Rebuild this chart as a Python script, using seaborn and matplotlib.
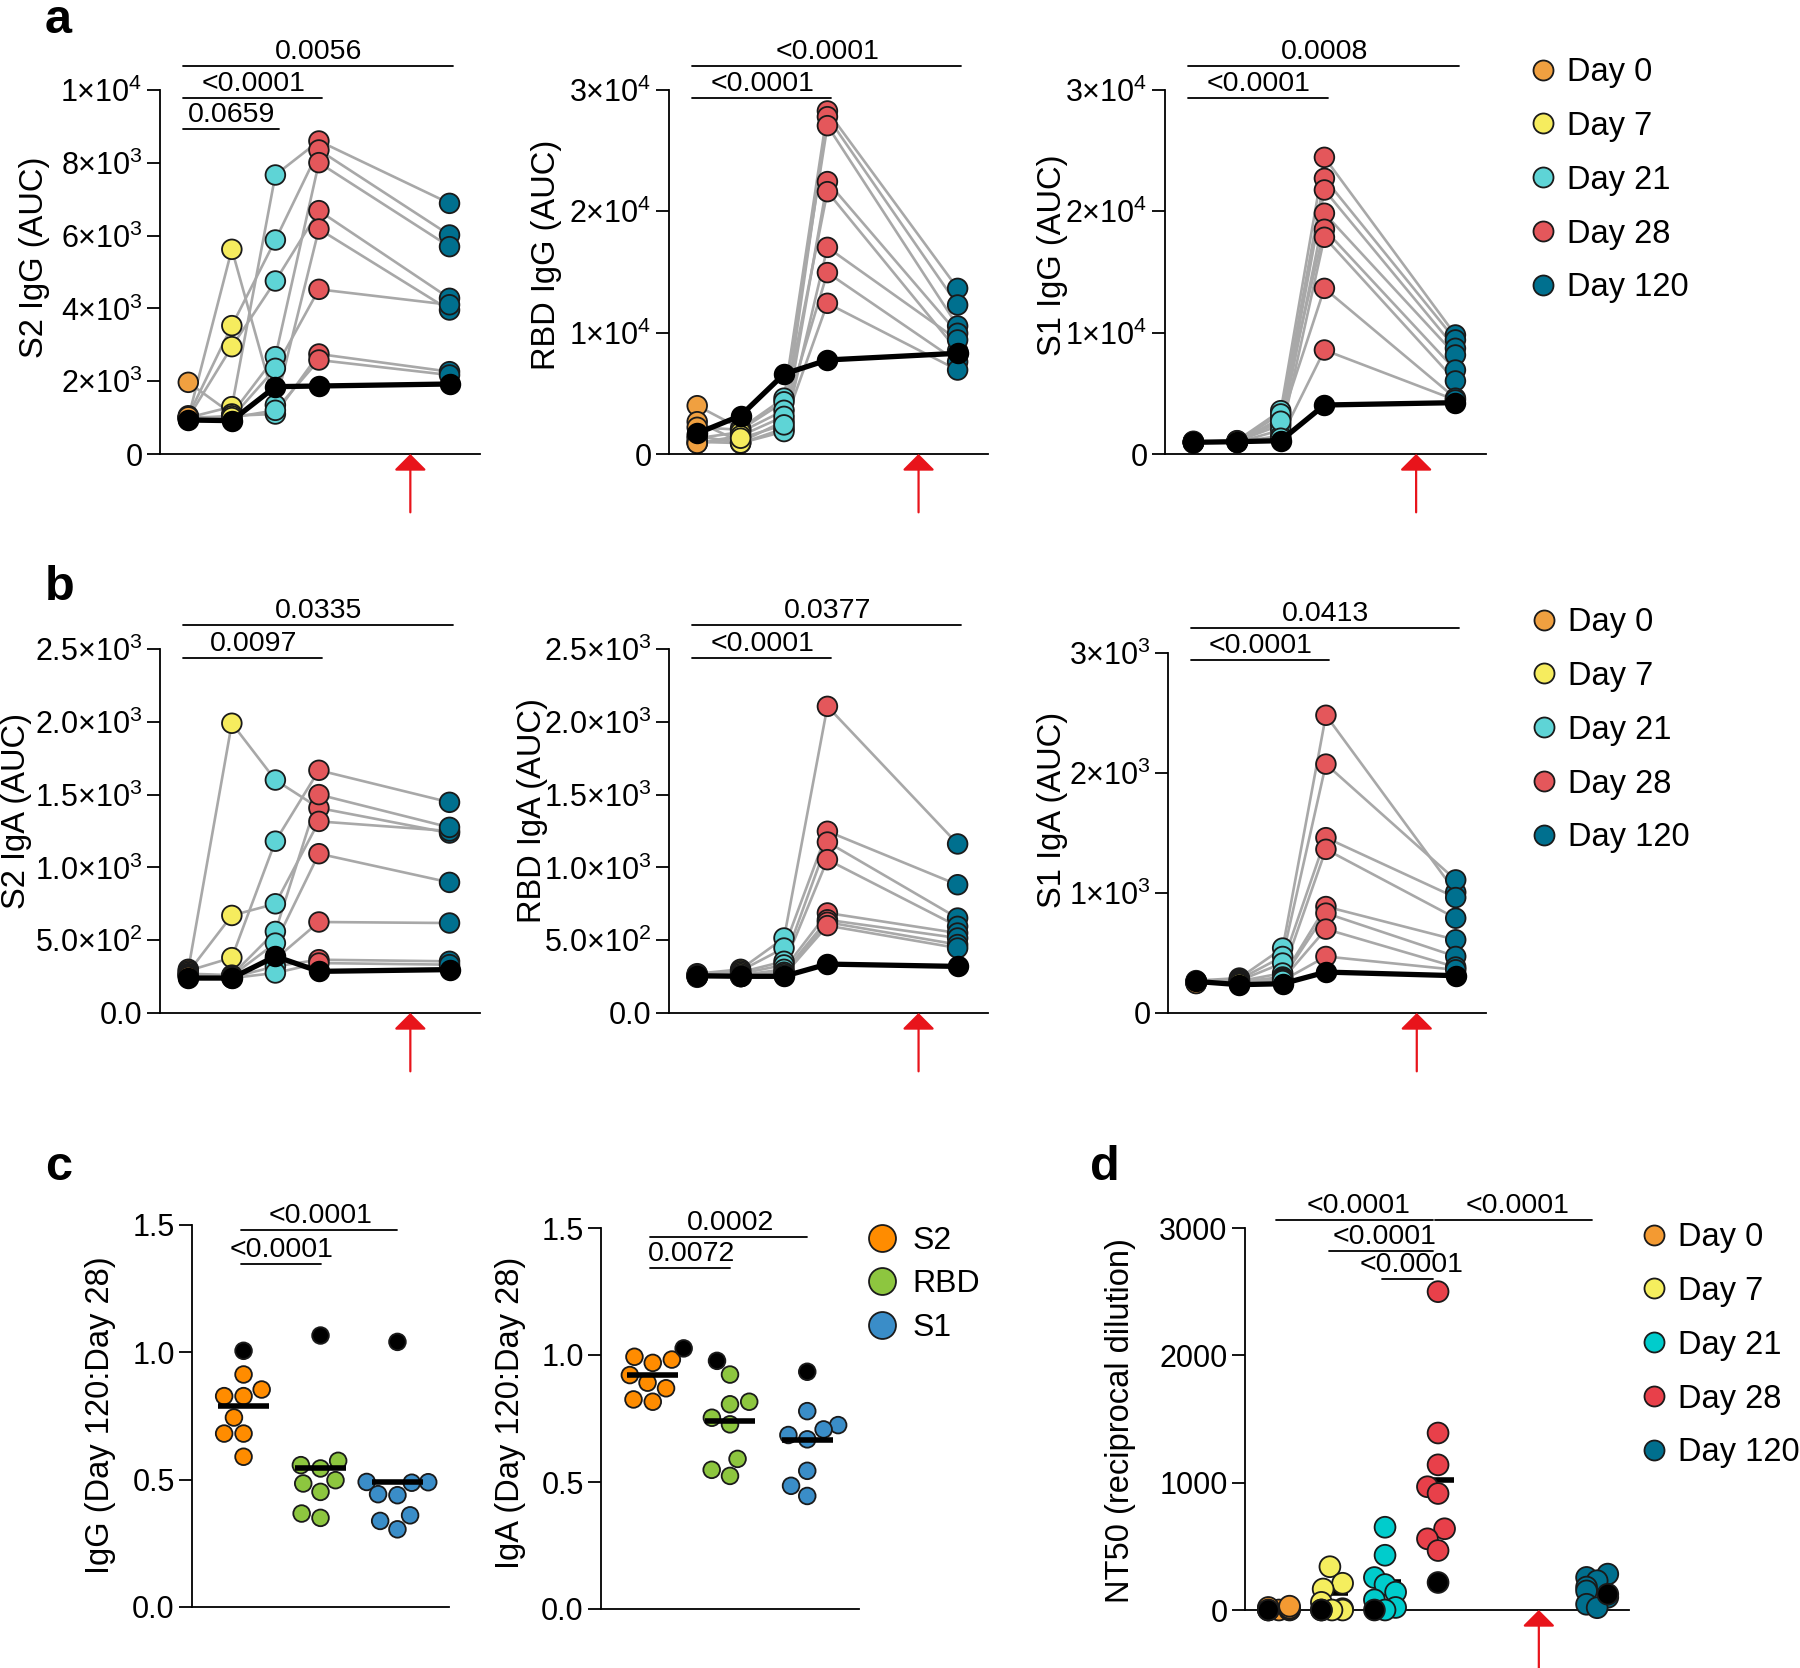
import numpy as np
import pandas as pd
import matplotlib
matplotlib.use("Agg")
import matplotlib.pyplot as plt
import seaborn as sns
from matplotlib.lines import Line2D
import warnings
warnings.filterwarnings("ignore")

# ---------------- data ----------------
days = ["Day 0", "Day 7", "Day 21", "Day 28", "Day 120"]
day_pos = [0, 1, 2, 3, 6]

# panel a (IgG AUC): rows = days, columns = 8 donors, *_ref = black donor
s2_igg = [
    [1000, 1050, 1000, 1969, 1000, 950, 980, 1020],
    [1300, 3526, 2949, 1100, 5623, 1000, 1050, 1000],
    [7665, 5879, 4753, 2674, 1346, 2353, 1099, 1200],
    [8599, 8352, 6685, 8004, 6181, 4524, 2747, 2582],
    [6886, 6016, 4277, 5696, 3956, 4100, 2262, 2170],
]
s2_igg_ref = [934, 916, 1850, 1868, 1923]

rbd_igg = [
    [3980, 2660, 2200, 1500, 1300, 1000, 900, 880],
    [2100, 1000, 2000, 880, 1800, 900, 1500, 1300],
    [4600, 2700, 4300, 2100, 3600, 1850, 3100, 2400],
    [28270, 27800, 27060, 22450, 21620, 17030, 14950, 12420],
    [13650, 12280, 10550, 9950, 8500, 9400, 7600, 6920],
]
rbd_igg_ref = [1700, 3160, 6590, 7750, 8300]

s1_igg = [
    [1000, 950, 900, 1050, 980, 920, 1000, 960],
    [1100, 1000, 1050, 950, 1020, 980, 1000, 1060],
    [3570, 2940, 2390, 1980, 3300, 1500, 2700, 1300],
    [24450, 22720, 21760, 19840, 18520, 17860, 13650, 8570],
    [9810, 9400, 8710, 8160, 6920, 6020, 4600, 4450],
]
s1_igg_ref = [962, 1016, 1099, 4038, 4231]

# panel b (IgA AUC)
s2_iga = [
    [300, 290, 280, 270, 265, 260, 255, 250],
    [1990, 380, 670, 260, 255, 250, 245, 240],
    [1600, 1180, 750, 560, 480, 370, 320, 275],
    [1408, 1667, 1316, 1500, 1094, 625, 366, 343],
    [1236, 1447, 1250, 1275, 897, 618, 355, 332],
]
s2_iga_ref = [240, 240, 389, 286, 298]

rbd_iga = [
    [270, 265, 260, 255, 255, 250, 250, 245],
    [300, 290, 280, 270, 260, 255, 250, 250],
    [515, 446, 355, 330, 300, 280, 270, 260],
    [2106, 1248, 1174, 1053, 687, 640, 623, 600],
    [1161, 881, 652, 595, 549, 515, 470, 446],
]
rbd_iga_ref = [256, 252, 252, 336, 320]

s1_iga = [
    [270, 265, 260, 258, 255, 250, 250, 245],
    [291, 280, 270, 265, 260, 255, 250, 245],
    [541, 471, 416, 333, 300, 290, 280, 270],
    [2481, 2074, 1461, 1364, 887, 832, 699, 471],
    [1006, 1109, 962, 790, 610, 471, 383, 360],
]
s1_iga_ref = [263, 236, 244, 341, 311]

# panel c (Day 120 : Day 28 ratios)
antigens = ["S2", "RBD", "S1"]
igg_ratio = [
    [0.913, 0.854, 0.828, 0.828, 0.744, 0.681, 0.681, 0.590],
    [0.574, 0.557, 0.544, 0.498, 0.485, 0.452, 0.367, 0.350],
    [0.491, 0.490, 0.488, 0.443, 0.439, 0.360, 0.338, 0.305],
]
igg_ratio_ref = [1.006, 1.066, 1.041]
igg_ratio_median = [0.790, 0.544, 0.489]
iga_ratio = [
    [0.993, 0.982, 0.969, 0.921, 0.891, 0.869, 0.825, 0.816],
    [0.923, 0.816, 0.806, 0.753, 0.727, 0.591, 0.548, 0.524],
    [0.779, 0.724, 0.707, 0.685, 0.668, 0.544, 0.485, 0.445],
]
iga_ratio_ref = [1.026, 0.977, 0.934]
iga_ratio_median = [0.921, 0.740, 0.665]

# panel d (NT50)
nt50 = [
    [0, 0, 0, 5, 10, 15, 20, 30],
    [340, 210, 165, 60, 10, 0, 0, 0],
    [650, 430, 255, 200, 140, 80, 20, 0],
    [2500, 1390, 1140, 968, 915, 638, 559, 467],
    [282, 256, 230, 180, 150, 100, 45, 18],
]
nt50_ref = [0, 0, 0, 216, 124]
nt50_median = [10, 137, 216, 1021, 170]

# significance annotations (group positions, label)
a_sig = {
    "S2": [(0, 6, "0.0056"), (0, 3, "<0.0001"), (0, 2, "0.0659")],
    "RBD": [(0, 6, "<0.0001"), (0, 3, "<0.0001")],
    "S1": [(0, 6, "0.0008"), (0, 3, "<0.0001")],
}
b_sig = {
    "S2": [(0, 6, "0.0335"), (0, 3, "0.0097")],
    "RBD": [(0, 6, "0.0377"), (0, 3, "<0.0001")],
    "S1": [(0, 6, "0.0413"), (0, 3, "<0.0001")],
}
c_sig_igg = [(0, 2, "<0.0001"), (0, 1, "<0.0001")]
c_sig_iga = [(0, 2, "0.0002"), (0, 1, "0.0072")]
d_sig = [(0, 3, "<0.0001"), (3, 6, "<0.0001"), (1, 3, "<0.0001"), (2, 3, "<0.0001")]

ticks_1e4 = [0, 2000, 4000, 6000, 8000, 10000]
labels_1e4 = ["0", "2×10$^3$", "4×10$^3$", "6×10$^3$", "8×10$^3$", "1×10$^4$"]
ticks_3e4 = [0, 10000, 20000, 30000]
labels_3e4 = ["0", "1×10$^4$", "2×10$^4$", "3×10$^4$"]
ticks_25e2 = [0, 500, 1000, 1500, 2000, 2500]
labels_25e2 = ["0.0", "5.0×10$^2$", "1.0×10$^3$", "1.5×10$^3$", "2.0×10$^3$", "2.5×10$^3$"]
ticks_3e3 = [0, 1000, 2000, 3000]
labels_3e3 = ["0", "1×10$^3$", "2×10$^3$", "3×10$^3$"]

# ---------------- style ----------------
sns.set_theme(style="ticks", rc={"axes.edgecolor": "black", "text.color": "black",
                                  "axes.labelcolor": "black", "ytick.color": "black",
                                  "xtick.color": "black"})
plt.rcParams["font.family"] = ["Liberation Sans", "DejaVu Sans"]
plt.rcParams["mathtext.fontset"] = "custom"
plt.rcParams["mathtext.rm"] = "Liberation Sans"
plt.rcParams["mathtext.it"] = "Liberation Sans:italic"
plt.rcParams["mathtext.bf"] = "Liberation Sans:bold"
plt.rcParams["mathtext.default"] = "regular"

day_colors = dict(zip(days, ["#F0A040", "#F6EC5E", "#5ED4D6", "#E4575B", "#00708F"]))
d_colors = dict(zip(days, ["#F39A32", "#F5EE5E", "#00CCCC", "#E8404A", "#006F8E"]))
ag_colors = dict(zip(antigens, ["#FF8C00", "#8DC63F", "#3A8DC8"]))
edge = "#1a1a1a"
arrow_red = "#E8141B"

TICK_FS, LABEL_FS, SIG_FS, LEG_FS = 22, 23.5, 20.5, 23.5

W, H = 1800, 1668
fig = plt.figure(figsize=(W / 100, H / 100), dpi=100)


def add_ax(l, t, r, b):
    return fig.add_axes([l / W, 1 - b / H, (r - l) / W, (b - t) / H])


def style_axis(ax, ylim, ticks, labels, ylabel, label_xy, box):
    l, t, r, b = box
    ax.set_ylim(*ylim)
    ax.set_yticks(ticks, labels)
    ax.set_xticks([])
    ax.set_xlabel("")
    sns.despine(ax=ax)
    for s in ["left", "bottom"]:
        ax.spines[s].set_linewidth(1.3)
    ax.tick_params(axis="y", length=9.5, width=1.3, labelsize=TICK_FS, pad=3)
    ax.set_ylabel(ylabel, fontsize=LABEL_FS, va="center")
    ax.yaxis.set_label_coords((label_xy[0] - l) / (r - l), (b - label_xy[1]) / (b - t))


def sig_bars(ax, items, heights, pad_l, pad_r):
    tr = ax.get_xaxis_transform()
    for (x1, x2, txt), y in zip(items, heights):
        ax.plot([x1 - pad_l, x2 + pad_r], [y, y], transform=tr, color="black",
                lw=1.3, clip_on=False)
        ax.annotate(txt, xy=((x1 + x2) / 2, y), xycoords=tr, xytext=(0, 5),
                    textcoords="offset points", ha="center", va="baseline",
                    fontsize=SIG_FS, annotation_clip=False)


def boost_arrow(ax, x):
    ax.annotate("", xy=(x, 0), xycoords=("data", "axes fraction"),
                xytext=(0, -42), textcoords="offset points",
                arrowprops=dict(arrowstyle="-|>,head_length=0.36,head_width=0.36",
                                color=arrow_red, lw=1.6, mutation_scale=28,
                                shrinkA=0, shrinkB=0),
                annotation_clip=False)


def unclip_points(ax):
    # let markers sitting on the axis spill over it; skip empty swarm slots
    for c in ax.collections:
        if len(c.get_offsets()):
            c.set_clip_on(False)


def paired_panel(box, values, ref, ylim, ticks, labels, ylabel, label_xy, sig, heights):
    ax = add_ax(*box)
    rows = []
    for d, day in enumerate(days):
        for s, v in enumerate(values[d]):
            rows.append({"donor": s, "day": day, "pos": day_pos[d], "value": v})
    df = pd.DataFrame(rows)
    ref_df = pd.DataFrame({"pos": day_pos, "value": ref})
    sns.lineplot(data=df, x="pos", y="value", units="donor", estimator=None,
                 color="#A8A8A8", lw=1.9, ax=ax, zorder=1)
    sns.scatterplot(data=df, x="pos", y="value", hue="day", palette=day_colors,
                    s=200, edgecolor=edge, linewidth=1.3, legend=False, ax=ax, zorder=2)
    sns.lineplot(data=ref_df, x="pos", y="value", color="black", lw=3.8, ax=ax, zorder=3)
    sns.scatterplot(data=ref_df, x="pos", y="value", color="black", s=200,
                    edgecolor="black", linewidth=1.3, legend=False, ax=ax, zorder=4)
    ax.set_xlim(-0.65, 6.7)
    style_axis(ax, ylim, ticks, labels, ylabel, label_xy, box)
    unclip_points(ax)
    sig_bars(ax, sig, heights, 0.12, 0.08)
    boost_arrow(ax, 5.1)
    return ax


def day_legend(x, y, colors):
    handles = [Line2D([], [], ls="", marker="o", markersize=14.4, markerfacecolor=colors[d],
                      markeredgecolor=edge, markeredgewidth=1.3) for d in days]
    fig.legend(handles, days, loc="upper left", bbox_to_anchor=(x / W, 1 - y / H),
               frameon=False, fontsize=LEG_FS, borderpad=0, borderaxespad=0,
               handlelength=0.8, handletextpad=0.34, labelspacing=0.70)


# ---------------- panel a ----------------
a_h = [1.066, 0.978, 0.893]
paired_panel((160, 90, 480, 454), s2_igg, s2_igg_ref, (0, 10000), ticks_1e4, labels_1e4,
             "S2 IgG (AUC)", (35, 257), a_sig["S2"], a_h)
paired_panel((669, 90, 988, 454), rbd_igg, rbd_igg_ref, (0, 30000), ticks_3e4, labels_3e4,
             "RBD IgG (AUC)", (547, 255), a_sig["RBD"], a_h)
paired_panel((1165, 90, 1486, 454), s1_igg, s1_igg_ref, (0, 30000), ticks_3e4, labels_3e4,
             "S1 IgG (AUC)", (1052, 255), a_sig["S1"], a_h)
day_legend(1530, 57, day_colors)

# ---------------- panel b ----------------
b_h = [1.066, 0.975]
paired_panel((160, 649, 480, 1013), s2_iga, s2_iga_ref, (0, 2500), ticks_25e2, labels_25e2,
             "S2 IgA (AUC)", (17, 811), b_sig["S2"], b_h)
paired_panel((669, 649, 988, 1013), rbd_iga, rbd_iga_ref, (0, 2500), ticks_25e2, labels_25e2,
             "RBD IgA (AUC)", (533, 811), b_sig["RBD"], b_h)
paired_panel((1168, 653, 1486, 1013), s1_iga, s1_iga_ref, (0, 3000), ticks_3e3, labels_3e3,
             "S1 IgA (AUC)", (1052, 810), b_sig["S1"], [1.069, 0.98])
day_legend(1531, 607, day_colors)

# ---------------- panel c ----------------
ag_palette = dict(ag_colors, ref="black")


def ratio_panel(box, vals, ref, med, ylabel, label_xy, sig, heights):
    ax = add_ax(*box)
    rows = []
    for i, ag in enumerate(antigens):
        for v in vals[i]:
            rows.append({"antigen": ag, "ratio": v, "group": ag})
        rows.append({"antigen": ag, "ratio": ref[i], "group": "ref"})
    df = pd.DataFrame(rows)
    sns.swarmplot(data=df, x="antigen", y="ratio", hue="group", order=antigens,
                  palette=ag_palette, size=12, edgecolor=edge, linewidth=1.3,
                  legend=False, warn_thresh=1, ax=ax)
    ax.hlines(med, np.arange(3) - 0.33, np.arange(3) + 0.33, color="black", lw=4, zorder=5)
    ax.set_xlim(-0.67, 2.67)
    style_axis(ax, (0, 1.5), [0, 0.5, 1.0, 1.5], ["0.0", "0.5", "1.0", "1.5"],
               ylabel, label_xy, box)
    sig_bars(ax, sig, heights, 0.03, 0.0)
    return ax


ratio_panel((192, 1225, 449, 1607), igg_ratio, igg_ratio_ref, igg_ratio_median,
            "IgG (Day 120:Day 28)", (101, 1415), c_sig_igg, [0.987, 0.898])
ratio_panel((601, 1228, 859, 1609), iga_ratio, iga_ratio_ref, iga_ratio_median,
            "IgA (Day 120:Day 28)", (511, 1413), c_sig_iga, [0.976, 0.895])

ag_handles = [Line2D([], [], ls="", marker="o", markersize=19.4, markerfacecolor=ag_colors[a],
                     markeredgecolor=edge, markeredgewidth=1.3) for a in antigens]
fig.legend(ag_handles, antigens, loc="upper left", bbox_to_anchor=(869 / W, 1 - 1226 / H),
           frameon=False, fontsize=23, borderpad=0, borderaxespad=0,
           handlelength=0.8, handletextpad=0.57, labelspacing=0.42)

# ---------------- panel d ----------------
# two slots per day step keeps each swarm as narrow as in the original
slot = {d: 2 * p for d, p in zip(days, day_pos)}
n_slots = 2 * day_pos[-1] + 1
order_d = [next((d for d in days if slot[d] == k), f"_{k}") for k in range(n_slots)]

box_d = (1245, 1228, 1629, 1610)
ax_d = add_ax(*box_d)
rows = []
for d, day in enumerate(days):
    for v in nt50[d]:
        rows.append({"day": day, "nt50": v, "group": day})
    rows.append({"day": day, "nt50": nt50_ref[d], "group": "ref"})
df_d = pd.DataFrame(rows)
med_x = np.array([slot[d] for d in days])
ax_d.hlines(nt50_median, med_x - 0.6, med_x + 0.6, color="black", lw=4, zorder=0.5)
sns.swarmplot(data=df_d, x="day", y="nt50", hue="group", order=order_d,
              palette=dict(d_colors, ref="black"), size=15, edgecolor=edge,
              linewidth=1.3, legend=False, warn_thresh=1, ax=ax_d)
unclip_points(ax_d)
ax_d.set_xlim(-1.28, 13.2)
style_axis(ax_d, (0, 3000), [0, 1000, 2000, 3000], ["0", "1000", "2000", "3000"],
           "NT50 (reciprocal dilution)", (1120, 1421), box_d)
sig_bars(ax_d, [(2 * a, 2 * b, t) for a, b, t in d_sig], [1.021, 1.021, 0.94, 0.866],
         0.1, -0.2)
boost_arrow(ax_d, 9.8)
day_legend(1641, 1222, d_colors)

# ---------------- panel letters ----------------
for letter, (x, y) in zip("abcd", [(45, 33), (45, 600), (45, 1180), (1090, 1180)]):
    fig.text(x / W, 1 - y / H, letter, fontsize=35, fontweight="bold", va="baseline")

fig.savefig("out.png", dpi=100)
